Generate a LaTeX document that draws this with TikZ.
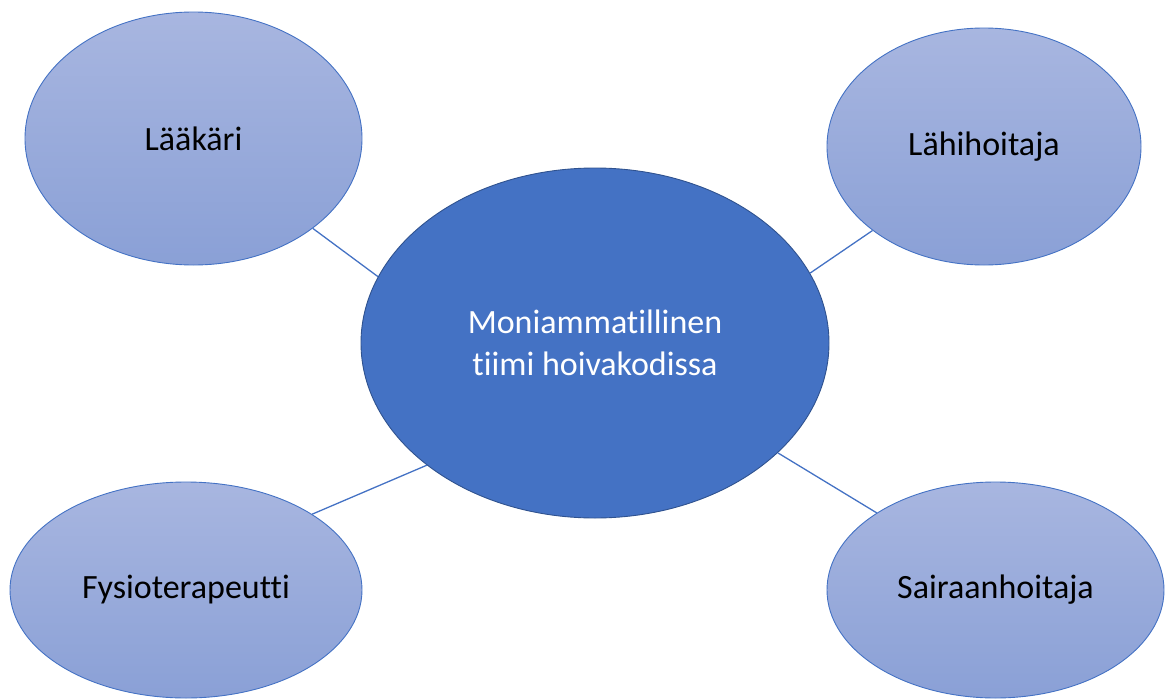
\documentclass[tikz,border=0pt]{standalone}
\usepackage{fontspec}
\setmainfont{Carlito}[Ligatures={NoCommon}]
\usetikzlibrary{shapes.geometric}
\definecolor{accent}{RGB}{68,114,196}
\definecolor{accentdark}{RGB}{47,82,143}
\definecolor{lighttop}{RGB}{168,182,224}
\definecolor{lightbot}{RGB}{138,160,214}
\tikzset{
  outer/.style={ellipse, draw=accent, line width=0.9pt, top color=lighttop, bottom color=lightbot,
    inner sep=0pt, font=\fontsize{34}{41}\selectfont, text=black},
  hub/.style={ellipse, draw=accentdark, line width=0.9pt, fill=accent, inner sep=0pt,
    font=\fontsize{34}{42}\selectfont, text=white, align=center},
  link/.style={draw=accent, line width=1.3pt}
}
\begin{document}
\begin{tikzpicture}[x=1pt,y=-1pt]
\useasboundingbox (0,0) rectangle (1171,699);
\node[hub, minimum width=468pt, minimum height=350pt] (c) at (595,343) {\raisebox{-4pt}{Moniammatillinen}\\\raisebox{-4pt}{tiimi hoivakodissa}};
\node[outer, minimum width=337pt, minimum height=253pt] (tl) at (193.5,138.5) {Lääkäri};
\node[outer, minimum width=314pt, minimum height=237pt] (tr) at (984,146.5) {Lähihoitaja};
\node[outer, minimum width=352pt, minimum height=216pt] (bl) at (186,590) {Fysioterapeutti};
\node[outer, minimum width=337pt, minimum height=216pt] (br) at (995.5,590) {Sairaanhoitaja};
\draw[link] (tl.-37.4) -- (c.163.3);
\draw[link] (tr.217.6) -- (c.18.9);
\draw[link] (bl.31.2) -- (c.216.9);
\draw[link] (br.147.9) -- (c.-31.5);
\end{tikzpicture}
\end{document}
